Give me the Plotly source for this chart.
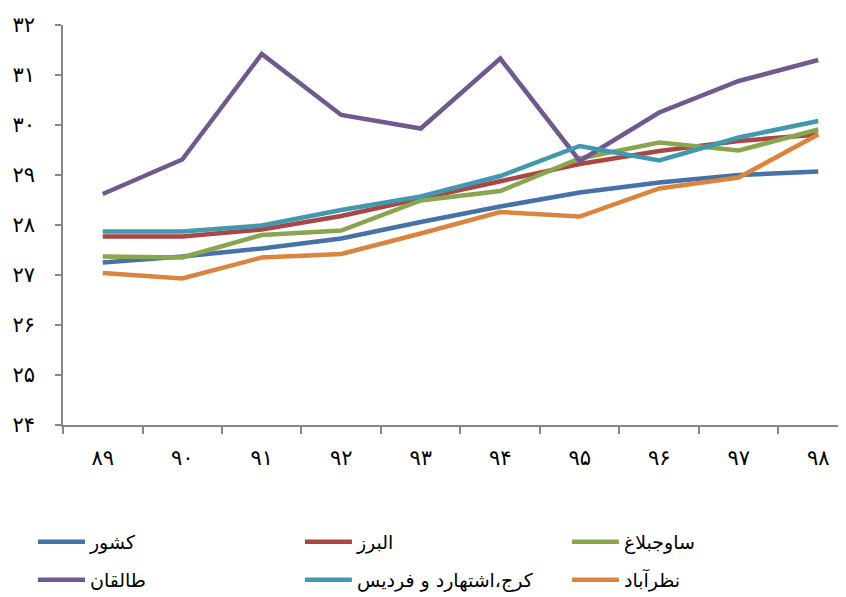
import plotly.graph_objects as go

years = ["۸۹", "۹۰", "۹۱", "۹۲", "۹۳", "۹۴", "۹۵", "۹۶", "۹۷", "۹۸"]

keshvar = [27.25, 27.37, 27.53, 27.73, 28.06, 28.37, 28.65, 28.85, 29.0, 29.07]
alborz = [27.77, 27.77, 27.91, 28.18, 28.53, 28.88, 29.22, 29.48, 29.68, 29.81]
savojbolagh = [27.37, 27.35, 27.8, 27.89, 28.49, 28.68, 29.33, 29.65, 29.49, 29.91]
taleghan = [28.62, 29.31, 31.42, 30.2, 29.93, 31.33, 29.28, 30.25, 30.88, 31.3]
karaj = [27.87, 27.87, 27.99, 28.3, 28.57, 28.98, 29.58, 29.29, 29.75, 30.08]
nazarabad = [27.04, 26.93, 27.35, 27.42, 27.83, 28.26, 28.17, 28.73, 28.95, 29.81]

series_names = ["کشور", "البرز", "ساوجبلاغ", "طالقان", "کرج،اشتهارد و فردیس", "نظرآباد"]
series_values = [keshvar, alborz, savojbolagh, taleghan, karaj, nazarabad]
colors = ["#4572A7", "#AA4643", "#89A54E", "#71588F", "#4198AF", "#DB843D"]

y_ticks = [24, 25, 26, 27, 28, 29, 30, 31, 32]
y_ticktext = ["۲۴", "۲۵", "۲۶", "۲۷", "۲۸", "۲۹", "۳۰", "۳۱", "۳۲"]

font = "DejaVu Sans"
axis_color = "#868686"

fig = go.Figure()
for i, (name, vals, color) in enumerate(zip(series_names, series_values, colors)):
    fig.add_trace(go.Scatter(
        x=years,
        y=vals,
        name=name,
        mode="lines",
        line=dict(color=color, width=4.5),
        # two single-row legends, so the row spacing can match the original
        legend="legend" if i < 3 else "legend2",
    ))

legend_common = dict(
    orientation="h",
    x=-0.038,
    xanchor="left",
    yanchor="top",
    entrywidth=205,
    entrywidthmode="pixels",
    itemwidth=47,
    font=dict(family=font, size=19, color="black"),
)

fig.update_layout(
    width=846,
    height=597,
    margin=dict(l=55, r=0, t=17, b=180, autoexpand=False),
    plot_bgcolor="white",
    paper_bgcolor="white",
    showlegend=True,
    legend=dict(y=-0.245, **legend_common),
    legend2=dict(y=-0.34, **legend_common),
)

fig.update_xaxes(
    type="category",
    range=[-0.5, 9.45],
    tickson="boundaries",
    ticks="outside",
    ticklen=7,
    tickcolor=axis_color,
    tickwidth=1.5,
    showline=True,
    linecolor=axis_color,
    linewidth=1.5,
    showgrid=False,
    zeroline=False,
    automargin=False,
    tickfont=dict(family=font, size=21, color="black"),
    ticklabelstandoff=13,
)

fig.update_yaxes(
    range=[24, 32],
    tickmode="array",
    tickvals=y_ticks,
    ticktext=y_ticktext,
    ticks="outside",
    ticklen=6,
    tickcolor=axis_color,
    tickwidth=1.5,
    showline=True,
    linecolor=axis_color,
    linewidth=1.5,
    showgrid=False,
    zeroline=False,
    automargin=False,
    tickfont=dict(family=font, size=21, color="black"),
    ticklabelstandoff=16,
)

fig.write_html("out.html")
